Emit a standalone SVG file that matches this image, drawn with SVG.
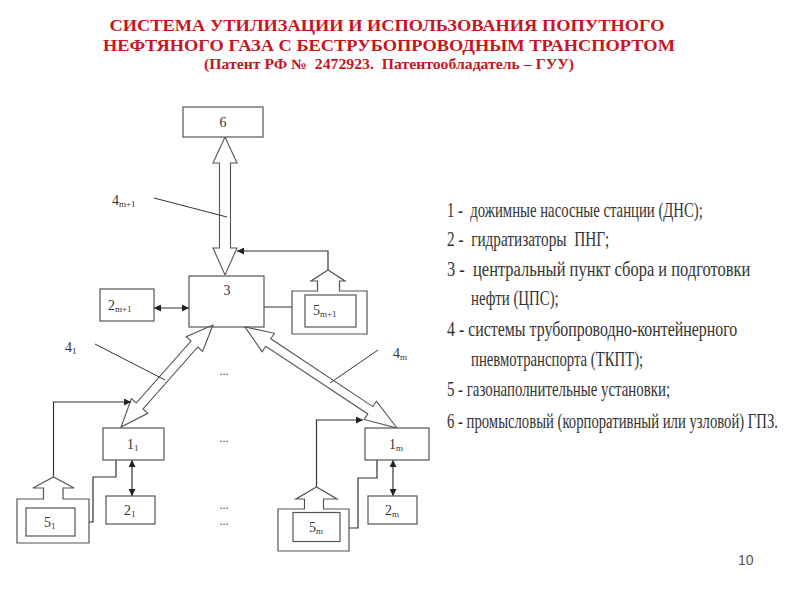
<svg xmlns="http://www.w3.org/2000/svg" width="800" height="600" viewBox="0 0 800 600">
  <style>
    .title{font-family:"Liberation Serif","Times New Roman",serif;font-weight:bold;fill:#c8141e;text-anchor:middle;white-space:pre}
    .box{fill:#fff;stroke:#555;stroke-width:1.2}
    .pipe{fill:#fff;stroke:#555;stroke-width:1.1;stroke-linejoin:miter}
    .lbl{font-family:"Liberation Serif","Times New Roman",serif;font-size:14px;fill:#333}
    .sub{font-size:9px}
    .ln{fill:none;stroke:#333;stroke-width:1.2}
    .lead{fill:none;stroke:#333;stroke-width:1}
    .dots{font-family:"Liberation Serif",serif;font-size:12px;fill:#444;text-anchor:middle}
    .leg{font-family:"Liberation Serif","Times New Roman",serif;font-size:20px;fill:#333;white-space:pre}
    .pg{font-family:"Liberation Sans",Arial,sans-serif;font-size:14px;fill:#555}
  </style>
  <defs>
    <marker id="ah" viewBox="0 0 10 10" refX="10" refY="5" markerWidth="8" markerHeight="7" markerUnits="userSpaceOnUse" orient="auto-start-reverse">
      <path d="M0,0 L10,5 L0,10 Z" fill="#222"/>
    </marker>
  </defs>

  <g id="title">
    <text class="title" x="387" y="31" font-size="17" textLength="555" lengthAdjust="spacingAndGlyphs">СИСТЕМА УТИЛИЗАЦИИ И ИСПОЛЬЗОВАНИЯ ПОПУТНОГО</text>
    <text class="title" x="389" y="51" font-size="17" textLength="572" lengthAdjust="spacingAndGlyphs">НЕФТЯНОГО ГАЗА С БЕСТРУБОПРОВОДНЫМ ТРАНСПОРТОМ</text>
    <text class="title" x="389" y="69" font-size="14" textLength="370" lengthAdjust="spacingAndGlyphs" xml:space="preserve">(Патент РФ №  2472923.  Патентообладатель – ГУУ)</text>
  </g>

  <g id="connectors">
    <polygon class="pipe" points="225,137 237,163 230.5,163 230.5,248 237,248 225,275 213,248 219.5,248 219.5,163 213,163"/>
    <polygon class="pipe" points="213,325 202.6,351.3 197.8,347 143,409 147.8,413.3 121,427 131.4,398.7 136.2,403 191,341 186.2,336.7"/>
    <polygon class="pipe" points="245,327 274.4,333.3 270.8,338.8 372.8,406.6 376.4,401.1 397,428 364.2,419.5 367.8,414 265.8,346.2 262.2,351.7"/>

    <line class="lead" x1="154" y1="198" x2="227" y2="217"/>
    <line class="lead" x1="95" y1="344" x2="165" y2="380"/>
    <line class="lead" x1="378" y1="350" x2="330" y2="383"/>

    <polyline class="ln" points="328,270 328,251 237,251" marker-end="url(#ah)"/>
    <line class="ln" x1="154" y1="308" x2="189" y2="308" marker-start="url(#ah)" marker-end="url(#ah)"/>
    <line class="ln" x1="264" y1="307" x2="305" y2="307" marker-end="url(#ah)"/>

    <line class="ln" x1="132" y1="460" x2="132" y2="496" marker-start="url(#ah)" marker-end="url(#ah)"/>
    <polyline class="ln" points="116,460 116,477 93,477 93,522 76,522" marker-end="url(#ah)"/>
    <polyline class="ln" points="53.5,477 53.5,402 131,402" marker-end="url(#ah)"/>

    <line class="ln" x1="393" y1="460" x2="393" y2="496" marker-start="url(#ah)" marker-end="url(#ah)"/>
    <polyline class="ln" points="377,460 377,478 358,478 358,528 341,528" marker-end="url(#ah)"/>
    <polyline class="ln" points="316.5,487 316.5,420 363,420" marker-end="url(#ah)"/>
  </g>

  <g id="node-6">
    <rect class="box" x="183" y="107" width="80" height="30"/>
    <text class="lbl" x="223" y="127" text-anchor="middle">6</text>
  </g>

  <g id="node-3">
    <rect class="box" x="189" y="276" width="75" height="51" style="fill:none"/>
    <text class="lbl" x="227" y="295" text-anchor="middle">3</text>
  </g>

  <g id="node-2m1">
    <rect class="box" x="100" y="289" width="54" height="32"/>
    <text class="lbl" x="108" y="310">2<tspan class="sub" dy="2">m+1</tspan></text>
  </g>

  <g id="node-5m1">
    <path class="box" d="M317.5,291 L292,291 L292,334 L367,334 L367,291 L339.5,291 L339.5,281 L345,281 L328,270 L311,281 L317.5,281 Z"/>
    <rect class="box" x="305" y="295" width="51" height="32"/>
    <text class="lbl" x="313" y="315">5<tspan class="sub" dy="2">m+1</tspan></text>
  </g>

  <g id="label-4m1">
    <text class="lbl" x="112" y="205">4<tspan class="sub" dy="2">m+1</tspan></text>
  </g>
  <g id="label-41">
    <text class="lbl" x="65" y="352">4<tspan class="sub" dy="2">1</tspan></text>
  </g>
  <g id="label-4m">
    <text class="lbl" x="393" y="358">4<tspan class="sub" dy="2">m</tspan></text>
  </g>

  <g id="node-1-1">
    <rect class="box" x="103" y="428" width="61" height="32"/>
    <text class="lbl" x="127" y="449">1<tspan class="sub" dy="2">1</tspan></text>
  </g>
  <g id="node-2-1">
    <rect class="box" x="106" y="496" width="49" height="28"/>
    <text class="lbl" x="124" y="515">2<tspan class="sub" dy="2">1</tspan></text>
  </g>
  <g id="node-5-1">
    <path class="box" d="M43.5,499 L17,499 L17,543 L89,543 L89,499 L63,499 L63,488 L74,488 L53.5,477 L33,488 L43.5,488 Z"/>
    <rect class="box" x="26" y="508" width="49" height="28"/>
    <text class="lbl" x="44" y="527">5<tspan class="sub" dy="2">1</tspan></text>
  </g>

  <g id="node-1-m">
    <rect class="box" x="365" y="428" width="64" height="32"/>
    <text class="lbl" x="389" y="449">1<tspan class="sub" dy="2">m</tspan></text>
  </g>
  <g id="node-2-m">
    <rect class="box" x="368" y="496" width="49" height="28"/>
    <text class="lbl" x="385" y="515">2<tspan class="sub" dy="2">m</tspan></text>
  </g>
  <g id="node-5-m">
    <path class="box" d="M304.5,509 L278,509 L278,551 L349,551 L349,509 L323.5,509 L323.5,499 L337,499 L316.5,487 L296,499 L304.5,499 Z"/>
    <rect class="box" x="293" y="512.5" width="47" height="29"/>
    <text class="lbl" x="309" y="532">5<tspan class="sub" dy="2">m</tspan></text>
  </g>

  <g id="ellipses">
    <text class="dots" x="224" y="375">...</text>
    <text class="dots" x="224" y="442">...</text>
    <text class="dots" x="224" y="509">...</text>
    <text class="dots" x="224" y="525">...</text>
  </g>

  <g id="legend">
    <g transform="scale(0.82 1)">
      <text class="leg" x="545.1" y="217" textLength="312" lengthAdjust="spacingAndGlyphs" xml:space="preserve">1 -  дожимные насосные станции (ДНС);</text>
      <text class="leg" x="545.1" y="246" textLength="198" lengthAdjust="spacingAndGlyphs" xml:space="preserve">2 -  гидратизаторы  ПНГ;</text>
      <text class="leg" x="545.1" y="276" textLength="370" lengthAdjust="spacingAndGlyphs" xml:space="preserve">3 -  центральный пункт сбора и подготовки</text>
      <text class="leg" x="574.4" y="305" textLength="107" lengthAdjust="spacingAndGlyphs">нефти (ЦПС);</text>
      <text class="leg" x="545.1" y="336" textLength="354" lengthAdjust="spacingAndGlyphs">4 - системы трубопроводно-контейнерного</text>
      <text class="leg" x="574.4" y="366" textLength="210" lengthAdjust="spacingAndGlyphs">пневмотранспорта (ТКПТ);</text>
      <text class="leg" x="545.1" y="396" textLength="272" lengthAdjust="spacingAndGlyphs">5 - газонаполнительные установки;</text>
    </g>
    <text class="leg" x="447" y="428" font-size="17" textLength="331" lengthAdjust="spacingAndGlyphs">6 - промысловый (корпоративный или узловой) ГПЗ.</text>
  </g>

  <g id="page-number">
    <text class="pg" x="738" y="565">10</text>
  </g>
</svg>
